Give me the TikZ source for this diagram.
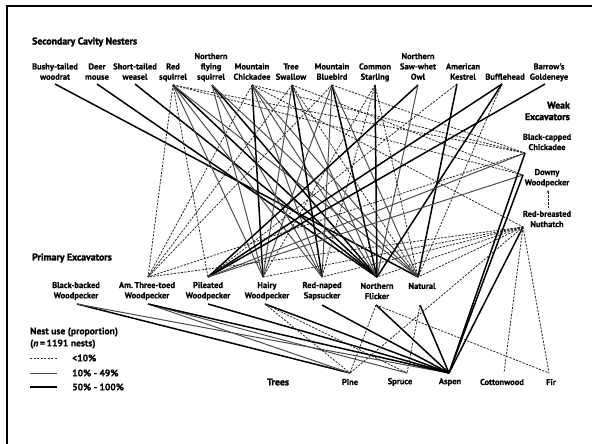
\documentclass[tikz,border=0pt]{standalone}
\usepackage{fontspec}
\setmainfont{PT Sans}
\newfontfamily\heavy[FakeBold=2]{PT Sans Bold}
\newfontfamily\labf[FakeBold=0.5]{PT Sans Bold}
\usetikzlibrary{arrows.meta}
\tikzset{
  lo/.style={draw=black!85, line width=0.8pt, dash pattern=on 2.2pt off 1.3pt},
  mid/.style={draw=black!70, line width=1.0pt},
  hi/.style={draw=black, line width=1.5pt},
  lab/.style={font=\labf\fontsize{8.5}{10.3}\selectfont, align=center, inner sep=0pt},
  leg/.style={font=\labf\fontsize{9.6}{11}\selectfont, inner sep=0pt},
  head/.style={font=\heavy\fontsize{9.8}{11.5}\selectfont, inner sep=0pt},
}
\begin{document}
\begin{tikzpicture}[x=1pt,y=-1pt]
\useasboundingbox (0,0) rectangle (592,444);
\coordinate (fa) at (7,444); \coordinate (fb) at (7,6); \coordinate (fc) at (592,6);
\draw[line width=2.6pt] (fa) -- (fb) -- (fc);
% headings
\node[head, anchor=west] (hsec) at (32,42) {Secondary Cavity Nesters};
\node[head, anchor=west] (hpri) at (32,258) {Primary Excavators};
\node[head, align=right, anchor=east] (hweak) at (570,111) {Weak\\Excavators};
\node[head, anchor=center] (htree) at (278,382) {Trees};
% secondary nesters
\node[lab, anchor=south] (tWR) at (55,83) {Bushy-tailed\\woodrat\strut};
\node[lab, anchor=south] (tDM) at (97,83) {Deer\\mouse\strut};
\node[lab, anchor=south] (tSTW) at (135,83) {Short-tailed\\weasel\strut};
\node[lab, anchor=south] (tRS) at (173,83) {Red\\squirrel\strut};
\node[lab, anchor=south] (tNFS) at (211,83) {Northern\\flying\\squirrel\strut};
\node[lab, anchor=south] (tMC) at (252,83) {Mountain\\Chickadee\strut};
\node[lab, anchor=south] (tTS) at (291,83) {Tree\\Swallow\strut};
\node[lab, anchor=south] (tMB) at (332,83) {Mountain\\Bluebird\strut};
\node[lab, anchor=south] (tCS) at (375,83) {Common\\Starling\strut};
\node[lab, anchor=south] (tNSO) at (418,83) {Northern\\Saw-whet\\Owl\strut};
\node[lab, anchor=south] (tAK) at (463,83) {American\\Kestrel\strut};
\node[lab, anchor=south] (tBH) at (505,83) {Bufflehead\strut};
\node[lab, anchor=south] (tBG) at (549,83) {Barrow's\\Goldeneye\strut};
% weak excavators
\node[lab] (tBCC) at (547,142) {Black-capped\\Chickadee};
\node[lab] (tDW) at (547,178) {Downy\\Woodpecker};
\node[lab] (tRBN) at (547,219) {Red-breasted\\Nuthatch};
% primary excavators
\node[lab] (tBBW) at (76,291) {Black-backed\\Woodpecker};
\node[lab] (tATW) at (147,291) {Am.\,Three-toed\\Woodpecker};
\node[lab] (tPW) at (208,291) {Pileated\\Woodpecker};
\node[lab] (tHW) at (267,291) {Hairy\\Woodpecker};
\node[lab] (tRNS) at (322,291) {Red-naped\\Sapsucker};
\node[lab] (tNF) at (377,291) {Northern\\Flicker};
\node[lab, anchor=center] (tNAT) at (422,286) {Natural};
% trees
\node[lab] (tPI) at (350,382) {Pine};
\node[lab] (tSP) at (400,382) {Spruce};
\node[lab] (tAS) at (450,382) {Aspen};
\node[lab] (tCO) at (502,382) {Cottonwood};
\node[lab] (tFI) at (551,382) {Fir};
% legend
\node[leg, anchor=west] (lg1) at (30,332) {Nest use (proportion)};
\node[leg, anchor=west] (lg2) at (30,344) {(\textit{n}\,=\,1191 nests)};
\coordinate (l1a) at (30,358); \coordinate (l1b) at (57,358);
\coordinate (l2a) at (30,373); \coordinate (l2b) at (57,373);
\coordinate (l3a) at (30,387); \coordinate (l3b) at (57,387);
\draw[lo] (l1a) -- (l1b);
\draw[mid] (l2a) -- (l2b);
\draw[hi] (l3a) -- (l3b);
\node[leg, anchor=west] (lt1) at (72,358) {<10\%};
\node[leg, anchor=west] (lt2) at (72,373) {10\% - 49\%};
\node[leg, anchor=west] (lt3) at (72,387) {50\% - 100\%};
% anchor points
\coordinate (WR) at (55,84); \coordinate (DM) at (97,84); \coordinate (STW) at (135,84);
\coordinate (RS) at (173,85); \coordinate (NFS) at (212,85); \coordinate (MC) at (252,85);
\coordinate (TS) at (292,85); \coordinate (MB) at (332,85); \coordinate (CS) at (375,85);
\coordinate (NSO) at (418,85); \coordinate (AK) at (457,84); \coordinate (BH) at (502,84);
\coordinate (BG) at (545,84);
\coordinate (BCC) at (525,153); \coordinate (DW) at (523,175); \coordinate (RBN) at (523,227);
\coordinate (DWb) at (548,190); \coordinate (RBNt) at (548,208);
\coordinate (ATWt) at (148,277); \coordinate (PWt) at (208,277); \coordinate (HWt) at (263,277);
\coordinate (RNSt) at (322,277); \coordinate (NFt) at (377,277); \coordinate (NATt) at (418,277);
\coordinate (BBWb) at (77,304); \coordinate (ATWb) at (148,304); \coordinate (PWb) at (208,304);
\coordinate (HWb) at (265,304); \coordinate (RNSb) at (322,305); \coordinate (NFb) at (376,305);
\coordinate (NATb) at (420,305);
\coordinate (PI) at (350,373); \coordinate (SP) at (407,373); \coordinate (AS) at (449,373);
\coordinate (CO) at (504,373); \coordinate (FI) at (549,373);
% secondary -> primary / weak
\draw[hi] (WR) -- (NATt);
\draw[hi] (DM) -- (NFt);
\draw[hi] (STW) -- (NFt);
\draw[lo] (RS) -- (ATWt); \draw[lo] (RS) -- (PWt); \draw[mid] (RS) -- (HWt);
\draw[mid] (RS) -- (RNSt); \draw[hi] (RS) -- (NFt); \draw[mid] (RS) -- (NATt);
\draw[lo] (RS) -- (DW); \draw[lo] (RS) -- (BCC);
\draw[mid] (NFS) -- (HWt); \draw[mid] (NFS) -- (RNSt); \draw[hi] (NFS) -- (NFt); \draw[mid] (NFS) -- (NATt);
\draw[lo] (MC) -- (ATWt); \draw[hi] (MC) -- (HWt); \draw[mid] (MC) -- (RNSt);
\draw[mid] (MC) -- (NFt); \draw[mid] (MC) -- (NATt); \draw[lo] (MC) -- (BCC); \draw[lo] (MC) -- (RBN);
\draw[lo] (TS) -- (ATWt); \draw[mid] (TS) -- (HWt); \draw[hi] (TS) -- (RNSt);
\draw[mid] (TS) -- (NFt); \draw[lo] (TS) -- (NATt); \draw[lo] (TS) -- (DW);
\draw[lo] (MB) -- (ATWt); \draw[mid] (MB) -- (HWt); \draw[mid] (MB) -- (RNSt);
\draw[hi] (MB) -- (NFt); \draw[mid] (MB) -- (NATt); \draw[lo] (MB) -- (BCC);
\draw[lo] (CS) -- (HWt); \draw[lo] (CS) -- (RNSt); \draw[hi] (CS) -- (NFt); \draw[lo] (CS) -- (NATt);
\draw[hi] (NSO) -- (PWt); \draw[mid] (NSO) -- (NFt);
\draw[lo] (AK) -- (PWt); \draw[hi] (AK) -- (NATt);
\draw[hi] (BH) -- (PWt); \draw[hi] (BH) -- (NFt); \draw[lo] (BH) -- (NATt);
\draw[hi] (BG) -- (PWt);
\draw[mid] (BCC) -- (PWt); \draw[mid] (DW) -- (PWt);
% weak -> primary
\draw[lo] (RBN) -- (ATWt); \draw[lo] (BCC) -- (ATWt);
\draw[lo] (RBN) -- (HWt); \draw[lo] (RBN) -- (RNSt); \draw[lo] (RBN) -- (NFt); \draw[lo] (RBN) -- (NATt);
\draw[lo, -{Stealth[length=3pt,width=2.5pt]}] (RBNt) -- (DWb);
% primary -> trees
\draw[hi] (BBWb) -- (PI); \draw[mid] (BBWb) -- (AS);
\draw[mid] (ATWb) -- (PI); \draw[mid] (ATWb) -- (SP); \draw[hi] (ATWb) -- (AS);
\draw[hi] (PWb) -- (AS);
\draw[hi] (HWb) -- (AS); \draw[lo] (HWb) -- (PI); \draw[lo] (HWb) -- (SP);
\draw[hi] (RNSb) -- (AS);
\draw[hi] (NFb) -- (AS); \draw[lo] (NFb) -- (PI); \draw[lo] (NFb) -- (FI);
\draw[hi] (NATb) -- (AS); \draw[lo] (NATb) -- (SP);
\draw[hi] (BCC) -- (AS); \draw[hi] (DW) -- (AS); \draw[hi] (RBN) -- (AS);
\draw[lo] (RBN) -- (CO); \draw[lo] (RBN) -- (FI); \draw[lo] (RBN) -- (PI);
\end{tikzpicture}
\end{document}
